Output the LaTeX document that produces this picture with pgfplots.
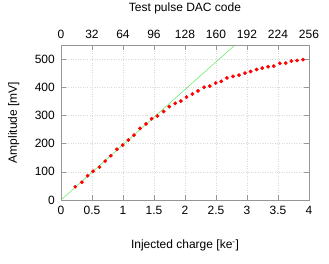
\documentclass[border=0pt]{standalone}
\usepackage{pgfplots}
\pgfplotsset{compat=1.18}
\usepackage{fontspec}
\setmainfont{Liberation Sans}
\definecolor{frame}{RGB}{150,150,150}
\definecolor{gline}{RGB}{90,235,90}
\begin{document}
\fontsize{12}{14}\selectfont
\begin{tikzpicture}
\useasboundingbox (-61pt,-64pt) rectangle (268pt,200pt);
\begin{axis}[
 at={(0,0)}, anchor=south west,
 scale only axis, width=248pt, height=155pt,
 xmin=0, xmax=4, ymin=0, ymax=550,
 xtick={0,0.5,1,1.5,2,2.5,3,3.5,4},
 xticklabels={0,0.5,1,1.5,2,2.5,3,3.5,4},
 ytick={0,100,200,300,400,500},
 tick align=inside, major tick length=5pt,
 tick style={frame, line width=0.5pt},
 axis line style={frame, line width=0.6pt},
 grid=major, major grid style={gray!30, dotted, line width=0.5pt},
 xticklabel pos=bottom, yticklabel pos=left,
 /pgf/number format/assume math mode=true,
 tick label style={font=\fontsize{12}{14}\selectfont},
 label style={font=\fontsize{12}{14}\selectfont},
 xlabel={Injected charge [ke\textsuperscript{-}]},
 ylabel={Amplitude [mV]},
 xlabel style={at={(axis description cs:0.5,0)}, anchor=base, yshift=-49pt},
 ylabel style={at={(axis description cs:-0.19,0.5)}, anchor=center},
 xticklabel style={yshift=-2pt},
 yticklabel style={xshift=-2pt},
 clip=true,
]
\addplot[only marks, mark=*, mark size=1.7pt, color=red] coordinates {
(0.230,47) (0.337,63) (0.428,86) (0.519,102) (0.621,117) (0.712,138)
(0.803,157) (0.900,180) (0.996,195) (1.087,213) (1.178,230) (1.274,254)
(1.371,270) (1.462,288) (1.553,298) (1.655,314) (1.746,331) (1.842,343)
(1.933,351) (2.024,365) (2.120,376) (2.210,387) (2.308,400) (2.399,404)
(2.495,415) (2.586,421) (2.677,433) (2.774,439) (2.870,443) (2.967,450)
(3.058,456) (3.154,463) (3.245,468) (3.341,473) (3.432,475) (3.529,485)
(3.625,486) (3.716,493) (3.807,495) (3.904,498)
};
\addplot[gline, line width=0.5pt, no marks] coordinates {(0,0) (2.806,550)};
\end{axis}
\begin{axis}[
 at={(0,0)}, anchor=south west,
 scale only axis, width=248pt, height=155pt,
 xmin=0, xmax=256, ymin=0, ymax=550,
 axis x line*=top, axis y line=none,
 xtick={0,32,64,96,128,160,192,224,256},
 tick align=inside, major tick length=5pt,
 tick style={frame, line width=0.5pt},
 axis line style={frame, line width=0.6pt},
 /pgf/number format/assume math mode=true,
 tick label style={font=\fontsize{12}{14}\selectfont},
 label style={font=\fontsize{12}{14}\selectfont},
 xlabel={Test pulse DAC code},
 xlabel style={at={(axis description cs:0.5,1)}, anchor=base, yshift=33pt},
 xticklabel style={yshift=2pt},
]
\end{axis}
\end{tikzpicture}
\end{document}
